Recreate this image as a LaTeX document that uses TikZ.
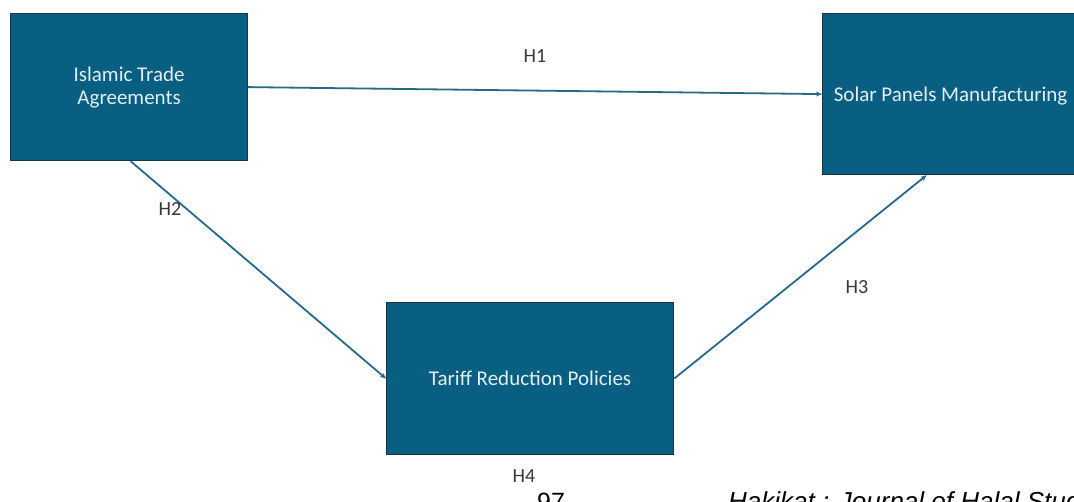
\documentclass[tikz,border=0pt]{standalone}
\usepackage{fontspec}
\setmainfont{Carlito}
\newfontfamily\footfont{Liberation Sans}
\usetikzlibrary{arrows.meta,calc}
\definecolor{boxfill}{RGB}{8,95,129}
\definecolor{boxline}{RGB}{28,52,66}
\definecolor{arrowcol}{RGB}{38,106,135}
\definecolor{boxtext}{RGB}{226,238,243}
\definecolor{labeltext}{RGB}{55,55,55}
\tikzset{
  varbox/.style={draw=boxline, line width=1.2pt, fill=boxfill, text=boxtext,
    anchor=north west, inner sep=0pt, align=center,
    font=\fontsize{21}{23}\selectfont},
  hyparrow/.style={draw=arrowcol, line width=1.8pt,
    -{Stealth[length=6pt,width=5pt]}},
  hyplabel/.style={text=labeltext, font=\fontsize{20}{22}\selectfont, inner sep=0pt},
  foottext/.style={text=black, anchor=base west, inner sep=0pt,
    font=\footfont\fontsize{26}{28}\selectfont}
}
\begin{document}
\begin{tikzpicture}[x=1pt,y=-1pt]
\useasboundingbox (0,0) rectangle (1074,502);
\clip (0,0) rectangle (1074,502);
\fill[white] (0,0) rectangle (1074,502);

\node[varbox, minimum width=237pt, minimum height=147pt] (A) at (10,13)
  {Islamic Trade\\Agreements};
\node[varbox, minimum width=256pt, minimum height=161pt, text depth=0pt] (B) at (822,13)
  {Solar Panels Manufacturing};
\node[varbox, minimum width=287pt, minimum height=152pt] (C) at (386,302)
  {Tariff Reduction Policies};

\coordinate (Bin) at ([xshift=-24pt]B.south);
\draw[hyparrow] (A.east) -- (B.west);
\draw[hyparrow] ([xshift=1.5pt]A.south) -- (C.west);
\draw[hyparrow] (C.east) -- (Bin);

\node[hyplabel] (h1) at (535,56) {H1};
\node[hyplabel] (h2) at (170,209) {H2};
\node[hyplabel] (h3) at (857,287) {H3};
\node[hyplabel] (h4) at (524,476) {H4};

\node[foottext, font=\footfont\fontsize{25}{27}\selectfont] (pg) at (537,510) {97};
\node[foottext] (jr) at (728,510) {\itshape Hakikat : Journal of Halal Studies};
\end{tikzpicture}
\end{document}
